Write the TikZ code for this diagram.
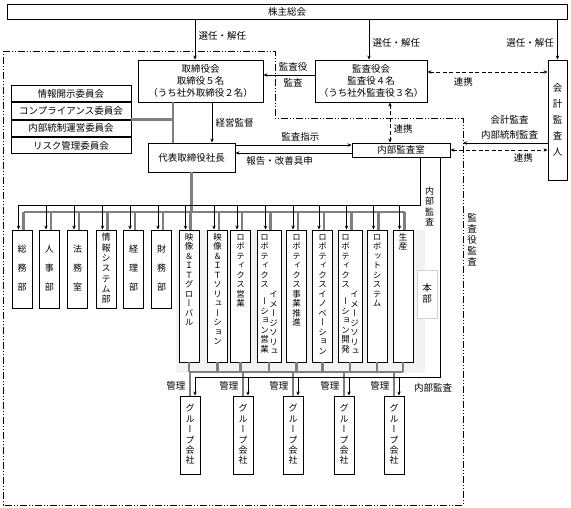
\documentclass[tikz,border=0pt]{standalone}
\usepackage{fontspec}
\setmainfont{Noto Sans CJK JP}
\newfontfamily\tatefont[RawFeature=+vert]{Noto Sans CJK JP}
\usetikzlibrary{positioning,arrows.meta}
\definecolor{bar}{HTML}{7F7F7F}
\definecolor{honbubg}{HTML}{F2F2F2}
% vertical text: one character per line
\makeatletter
\def\tate@strut{\vrule height .8em depth .2em width 0pt}
\def\tate@loop#1{\ifx#1\relax\else\hbox to 1em{\hss#1\hss\tate@strut}\expandafter\tate@loop\fi}
\newcommand\tate[2]{\vbox{\tatefont\baselineskip=#1\lineskiplimit=-\maxdimen\edef\tate@l{#2}\expandafter\tate@loop\tate@l\relax}}
\makeatother

\begin{document}
\begin{tikzpicture}[x=1pt,y=-1pt,every node/.style={font=\fontsize{9.5pt}{11.7pt}\selectfont},
  box/.style={draw,line width=.9pt,inner sep=0pt,align=center},
  cbox/.style={box,minimum width=120pt,minimum height=16.5pt},
  sbox/.style={box,minimum width=20pt,minimum height=78pt,font=\fontsize{9pt}{10pt}\selectfont},
  ubox/.style={box,fill=white,minimum height=132pt},
  utext/.style={anchor=north,inner sep=0pt,font=\fontsize{8.5pt}{9.5pt}\selectfont},
  gbox/.style={sbox,fill=white},
  wire/.style={line width=.8pt},
  arr/.style={wire,-{Stealth[length=4pt,width=3.4pt]}},
  darr/.style={wire,dash pattern=on 4pt off 2.5pt,{Stealth[length=4pt,width=3.4pt]}-{Stealth[length=4pt,width=3.4pt]}},
  gline/.style={line width=2.6pt,draw=bar},
  outer/.style={line width=.8pt,dash pattern=on 7pt off 2pt on 1pt off 2pt on 1pt off 2pt}]
\useasboundingbox (0,0) rectangle (571,508);
% honbu area and audit frame
\fill[honbubg] (176,230) rectangle (425,373);
\coordinate (frameR) at (463,118);
\draw[outer] (3,51) -- (275,51) -- (275,118) -- (frameR) -- (463,505) -- (3,505) -- cycle;

% governance
\node[box,minimum width=560pt,minimum height=15pt] (soukai) at (287,11.5) {株主総会};
\node[box,minimum width=125pt,minimum height=42pt] (torishimari) at (200.5,81) {取締役会\\取締役５名\\（うち社外取締役２名）};
\node[box,minimum width=112pt,minimum height=42pt] (kansayaku) at (371,81) {監査役会\\監査役４名\\（うち社外監査役３名）};
\node[box,minimum width=19pt,minimum height=120pt] (kaikei) at (557.5,120) {\tate{16pt}{会計監査人}};
\node[cbox] (c1) at (71,93.5) {情報開示委員会};
\node[cbox,below=0pt of c1] (c2) {コンプライアンス委員会};
\node[cbox,below=0pt of c2] (c3) {内部統制運営委員会};
\node[cbox,below=0pt of c3] (c4) {リスク管理委員会};
\node[box,minimum width=87pt,minimum height=29pt] (shacho) at (191.5,157.5) {代表取締役社長};
\node[box,minimum width=98pt,minimum height=14pt] (naibu) at (401,150) {内部監査室};

% departments
\foreach \id/\cx/\gap/\lbl in {s1/22/19pt/総務部,s2/49.5/19pt/人事部,s3/77.5/19pt/法務室,s4/106/10.3pt/情報システム部,s5/133.5/19pt/経理部,s6/161.5/19pt/財務部}
  \node[sbox] (\id) at (\cx,269) {\tate{\gap}{\lbl}};
\foreach \id/\cx/\w in {1/189/20,2/217.5/20,3/240.5/20,4/269/24,5/296.5/20,6/322.5/20,7/350/24,8/377/20,9/403/20}
  \node[ubox,minimum width=\w pt] (u\id) at (\cx,296) {};
\foreach \id/\lbl in {1/映像＆ＩＴグローバル,2/映像＆ＩＴソリューション,3/ロボティクス営業,5/ロボティクス事業推進,6/ロボティクスイノベーション,8/ロボットシステム,9/生産}
  \node[utext] (u\id-t) at ([yshift=-3.5pt]u\id.north) {\tate{9.5pt}{\lbl}};
\foreach \id/\lbl in {4/営業,7/開発} {
  \node[utext] (u\id-a) at ([xshift=-4.5pt,yshift=-3.5pt]u\id.north) {\tate{9.5pt}{ロボティクス}};
  \node[utext] (u\id-b) at ([xshift=-4.5pt,yshift=-68pt]u\id.north) {\tate{9.5pt}{ーション\lbl}};
  \node[utext] (u\id-c) at ([xshift=4.5pt,yshift=-61pt]u\id.north) {\tate{9.5pt}{イメージソリュ}};
}
\node[box,draw=gray!35,fill=white,minimum width=20pt,minimum height=48pt] (honbu) at (427,294) {\tate{11.5pt}{本部}};
\foreach \id/\cx in {1/190,2/243,3/293,4/344,5/394}
  \node[gbox] (g\id) at (\cx,435) {\tate{10.4pt}{グループ会社}};

% bus levels
\coordinate (kbus) at (0,205);
\coordinate (gbus) at (0,212);
\coordinate (gbus2) at (0,372);
\coordinate (kbus2) at (0,377);

% shareholders
\draw[arr] ([xshift=-5.5pt]torishimari.north |- soukai.south) -- ([xshift=-5.5pt]torishimari.north) node[pos=.42,right]{選任・解任};
\draw[arr] ([xshift=-2pt]kansayaku.north |- soukai.south) -- ([xshift=-2pt]kansayaku.north) node[pos=.58,right]{選任・解任};
\draw[arr] (kaikei.north |- soukai.south) -- (kaikei.north) node[pos=.58,left]{選任・解任};

% audit relations
\draw[arr] ([yshift=6pt]kansayaku.west) -- ([yshift=6pt]kansayaku.west -| torishimari.east) node[pos=.42,above]{監査役} node[pos=.42,below]{監査};
\draw[darr] ([yshift=9pt]kansayaku.east) -- ([yshift=9pt]kansayaku.east -| kaikei.west) node[pos=.3,below=2pt]{連携};
\draw[darr] ([xshift=19pt]kansayaku.south) -- ([xshift=19pt]kansayaku.south |- naibu.north) node[pos=.65,right]{連携};
\draw[arr] ([yshift=-23pt]kaikei.west) -- ([yshift=-23pt]kaikei.west -| frameR) node[pos=.45,above,align=center,font=\fontsize{9.5pt}{15pt}\selectfont]{会計監査\\内部統制監査};
\draw[darr] (naibu.east) -- (naibu.east -| kaikei.west) node[pos=.75,below]{連携};

% board and president
\coordinate (gb) at (173,118);
\draw[gline] (c3.north east) -- (c3.north east -| gb);
\draw[gline] (gb |- torishimari.south) -- (gb |- shacho.north);
\draw[arr] ([xshift=11.5pt]torishimari.south) -- ([xshift=11.5pt]torishimari.south |- shacho.north) node[midway,right]{経営監督};
\draw[arr] ([yshift=12.5pt]shacho.east) -- ([yshift=12.5pt]shacho.east -| naibu.west) node[pos=.56,above]{監査指示};
\draw[arr] ([yshift=-3pt]naibu.west) -- ([yshift=-3pt]naibu.west -| shacho.east) node[pos=.62,below]{報告・改善具申};

% to departments
\draw[gline] (shacho.south) -- (shacho.south |- gbus);
\draw[gline] ([xshift=1.5pt]s1.north |- gbus) -- ([xshift=1.5pt]u9.north |- gbus);
\foreach \id in {s1,s2,s3,s4,s5,s6,u1,u2,u3,u4,u5,u6,u7,u8,u9}
  \draw[gline] ([xshift=1.5pt]\id.north |- gbus) -- ([xshift=1.5pt]\id.north);
\draw[wire] ([xshift=19pt]naibu.south) |- ([xshift=-3.5pt]s1.north |- kbus);
\foreach \id in {s1,s2,s3,s4,s5,s6,u1,u2,u3,u4,u5,u6,u7,u8,u9}
  \draw[arr] ([xshift=-3.5pt]\id.north |- kbus) -- ([xshift=-3.5pt]\id.north);

% to group companies
\foreach \i in {1,...,9}
  \draw[gline] (u\i.south) -- (u\i.south |- gbus2);
\draw[gline] (u1.south |- gbus2) -- (u9.south |- gbus2);
\foreach \i in {1,...,5}
  \draw[gline] (g\i.north |- gbus2) -- (g\i.north) node[pos=.6,left]{管理};
\draw[wire] ([xshift=39pt]naibu.south) |- ([xshift=5pt]g1.north |- kbus2);
\foreach \i in {1,...,5}
  \draw[arr] ([xshift=5pt]g\i.north |- kbus2) -- ([xshift=5pt]g\i.north);

\node[font=\fontsize{9pt}{10pt}\selectfont] (naibuv) at (429.5,207) {\tate{10.3pt}{内部監査}};
\node (naibuh) at (433,388) {内部監査};
\node (kansav) at (472,240) {\tate{11pt}{監査役監査}};
\end{tikzpicture}
\end{document}
